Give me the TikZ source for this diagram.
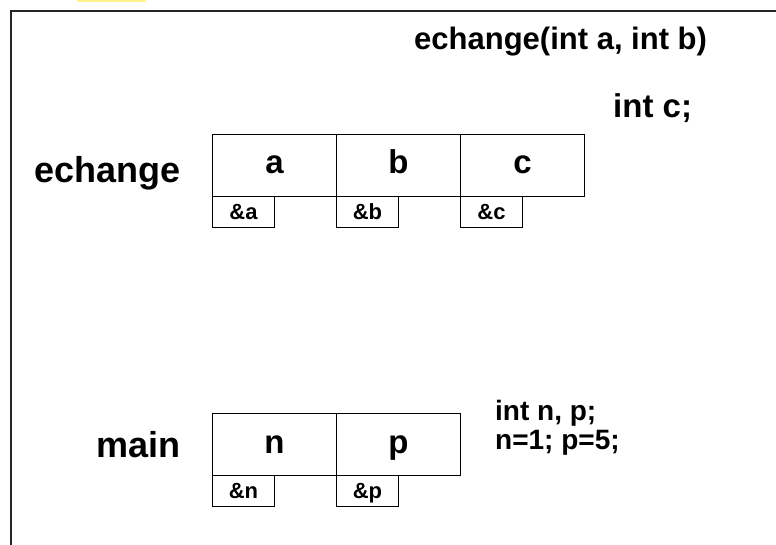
\documentclass[tikz,border=0pt]{standalone}
\usepackage{fontspec}
\setmainfont{Liberation Sans}
\definecolor{hl}{RGB}{255,244,140}
\begin{document}
\begin{tikzpicture}[x=1pt,y=-1pt,
  cell/.style={draw, line width=1pt, minimum width=124pt, minimum height=62pt, anchor=north west, inner sep=0pt, font=\fontsize{33}{38}\selectfont\bfseries, text height=17pt, text depth=0pt},
  addr/.style={draw, line width=1pt, minimum width=62pt, minimum height=31pt, anchor=north west, inner sep=0pt, font=\fontsize{22}{26}\selectfont\bfseries, text height=15.5pt, text depth=0pt},
  big/.style={anchor=base west, inner sep=0pt, font=\fontsize{36}{42}\selectfont\bfseries},
  code/.style={anchor=base west, inner sep=0pt, font=\fontsize{31}{36}\selectfont\bfseries}]
\useasboundingbox (0,0) rectangle (776,545);
\fill[hl] (77,0) rectangle (146,2.5);
\draw[line width=1.5pt, black!85] (776,11) -- (11,11) -- (11,545);
% echange frame
\node[code] (title) at (414,50) {echange(int a, int b)};
\node[code, font=\fontsize{33}{38}\selectfont\bfseries] (intc) at (613,118) {int c;};
\node[big] (lech) at (34,183) {echange};
\node[cell] (a) at (212,134) {a};
\node[cell] (b) at (336,134) {b};
\node[cell] (c) at (460,134) {c};
\node[addr] (ra) at (212,196) {\&a};
\node[addr] (rb) at (336,196) {\&b};
\node[addr] (rc) at (460,196) {\&c};
% main frame
\node[big] (lmain) at (96,457) {main};
\node[cell] (n) at (212,413) {n};
\node[cell] (p) at (336,413) {p};
\node[addr] (rn) at (212,475) {\&n};
\node[addr] (rp) at (336,475) {\&p};
\node[code, font=\fontsize{28}{33}\selectfont\bfseries] (decl) at (495,420) {int n, p;};
\node[code, font=\fontsize{28}{33}\selectfont\bfseries] (init) at (495,449) {n=1; p=5;};
\end{tikzpicture}
\end{document}
